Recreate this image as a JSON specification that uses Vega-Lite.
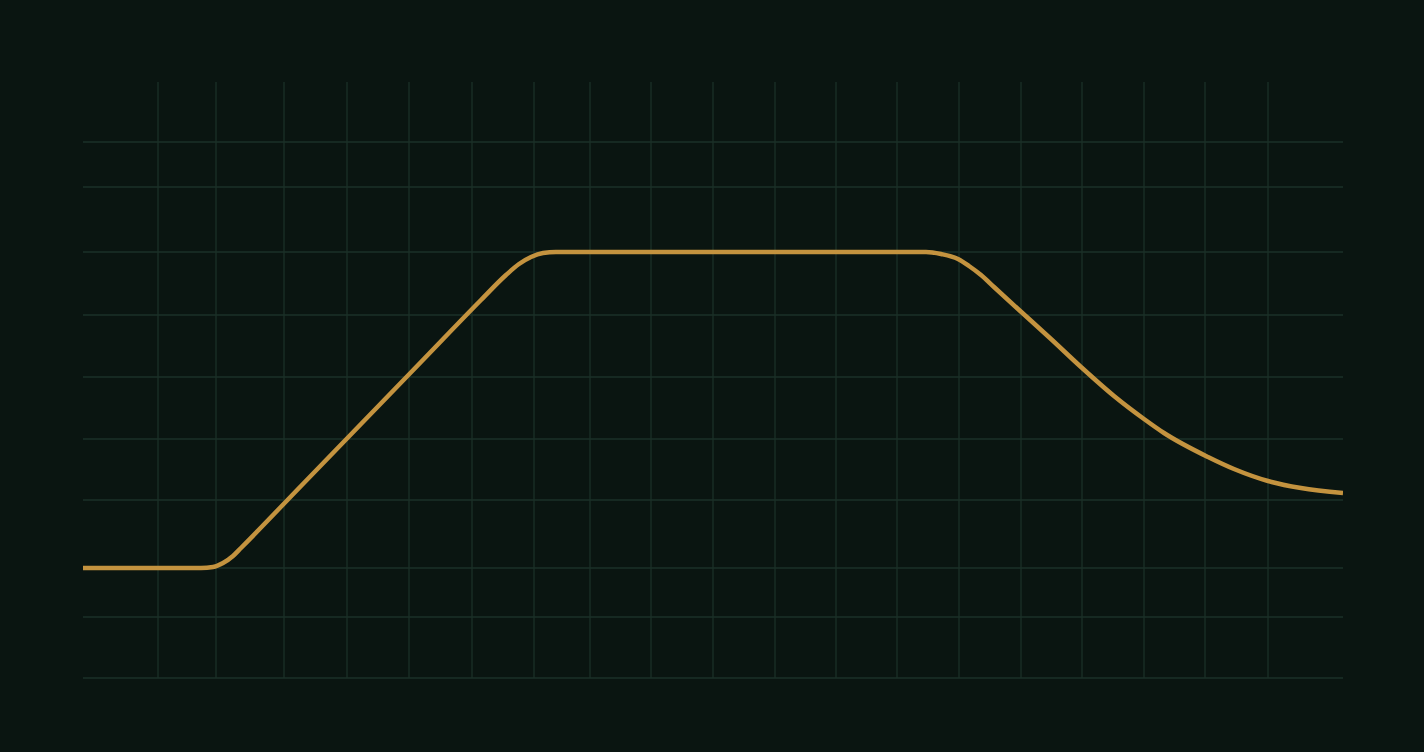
{
  "$schema": "https://vega.github.io/schema/vega-lite/v6.json",
  "width": 1260,
  "height": 596,
  "padding": {"left": 82, "right": 82, "top": 81, "bottom": 75},
  "autosize": {"type": "pad"},
  "background": "#0a1511",
  "config": {"view": {"stroke": null}},
  "datasets": {
    "vgrid": [{"x": 75}, {"x": 133}, {"x": 201}, {"x": 264}, {"x": 326}, {"x": 389}, {"x": 451}, {"x": 507}, {"x": 568}, {"x": 630}, {"x": 692}, {"x": 753}, {"x": 814}, {"x": 876}, {"x": 938}, {"x": 999}, {"x": 1061}, {"x": 1122}, {"x": 1185}],
    "hgrid": [{"y": 0}, {"y": 61}, {"y": 110}, {"y": 178}, {"y": 239}, {"y": 301}, {"y": 363}, {"y": 426}, {"y": 491}, {"y": 536}],
    "curve": [
      {"x": 0, "y": 110}, {"x": 68, "y": 110}, {"x": 118, "y": 110}, {"x": 130, "y": 111}, {"x": 140, "y": 115}, {"x": 150, "y": 122}, {"x": 158, "y": 130},
      {"x": 218, "y": 192}, {"x": 278, "y": 254}, {"x": 338, "y": 316}, {"x": 398, "y": 378}, {"x": 423, "y": 403}, {"x": 436, "y": 414}, {"x": 448, "y": 421},
      {"x": 460, "y": 425}, {"x": 473, "y": 426}, {"x": 518, "y": 426}, {"x": 618, "y": 426}, {"x": 718, "y": 426}, {"x": 818, "y": 426}, {"x": 843, "y": 426},
      {"x": 858, "y": 424}, {"x": 875, "y": 419}, {"x": 886, "y": 412}, {"x": 898, "y": 403}, {"x": 911, "y": 391}, {"x": 935, "y": 369}, {"x": 968, "y": 339},
      {"x": 998, "y": 311}, {"x": 1031, "y": 282}, {"x": 1061, "y": 259}, {"x": 1081, "y": 245}, {"x": 1125, "y": 221}, {"x": 1151, "y": 209},
      {"x": 1185, "y": 197}, {"x": 1218, "y": 190}, {"x": 1260, "y": 185}
    ]
  },
  "resolve": {"scale": {"x": "shared", "y": "shared"}},
  "layer": [
    {
      "data": {"name": "vgrid"},
      "mark": {"type": "rule", "stroke": "#1b3128", "strokeWidth": 1.3},
      "encoding": {
        "x": {"field": "x", "type": "quantitative", "scale": {"domain": [0, 1260], "nice": false, "zero": false}, "axis": null}
      }
    },
    {
      "data": {"name": "hgrid"},
      "mark": {"type": "rule", "stroke": "#1b3128", "strokeWidth": 1.3},
      "encoding": {
        "y": {"field": "y", "type": "quantitative", "scale": {"domain": [0, 596], "nice": false, "zero": false}, "axis": null}
      }
    },
    {
      "data": {"name": "curve"},
      "mark": {"type": "line", "stroke": "#c4933f", "strokeWidth": 4.5, "interpolate": "monotone", "clip": true},
      "encoding": {
        "x": {"field": "x", "type": "quantitative", "scale": {"domain": [0, 1260], "nice": false, "zero": false}, "axis": null},
        "y": {"field": "y", "type": "quantitative", "scale": {"domain": [0, 596], "nice": false, "zero": false}, "axis": null}
      }
    }
  ]
}
